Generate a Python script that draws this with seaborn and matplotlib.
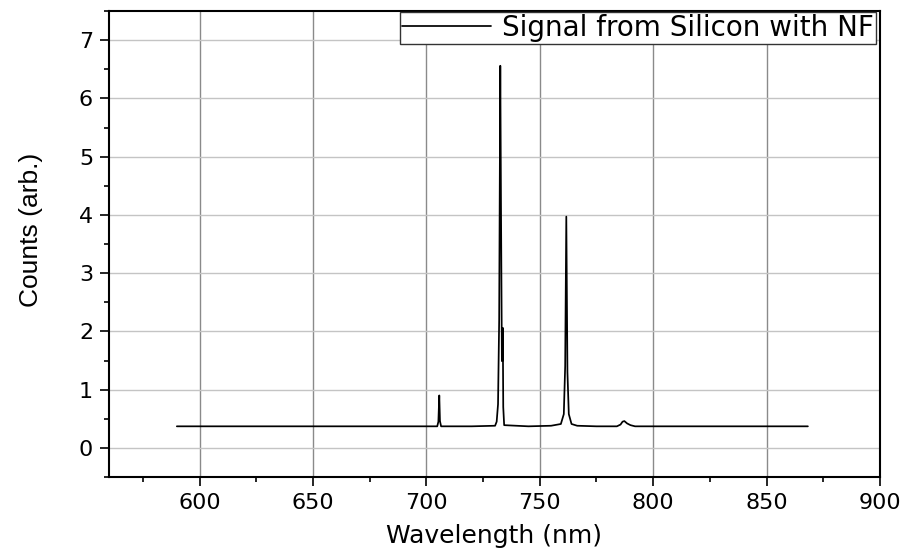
import numpy as np
import pandas as pd
import matplotlib
matplotlib.use("Agg")
import matplotlib.pyplot as plt
from matplotlib.ticker import MultipleLocator
import seaborn as sns

# Spectrum key points (wavelength nm, counts arb.)
wavelength = [590.0, 620.0, 660.0, 700.0, 704.8, 705.3, 705.7, 706.0, 706.5,
              720.0, 730.3, 731.0, 731.6, 732.1, 732.6, 732.9, 733.3, 733.5,
              733.7, 733.9, 734.3, 745.0, 755.0, 759.3, 760.6, 761.2, 761.7,
              762.2, 762.8, 764.0, 766.5, 775.0, 784.0, 785.6, 786.5, 787.3,
              788.5, 790.0, 792.0, 820.0, 850.0, 868.2]
counts = [0.37, 0.37, 0.37, 0.37, 0.37, 0.45, 0.90, 0.46, 0.37,
          0.37, 0.38, 0.45, 0.75, 2.20, 6.56, 4.20, 1.49, 1.49,
          2.06, 0.70, 0.39, 0.37, 0.38, 0.41, 0.58, 1.40, 3.97,
          1.30, 0.58, 0.41, 0.38, 0.37, 0.37, 0.40, 0.45, 0.46,
          0.42, 0.39, 0.37, 0.37, 0.37, 0.37]
series_label = "Signal from Silicon with NF"
x_ticks = [600, 650, 700, 750, 800, 850, 900]
y_ticks = [0, 1, 2, 3, 4, 5, 6, 7]

df = pd.DataFrame({"Wavelength (nm)": wavelength, "Counts (arb.)": counts})

sns.set_style("white")
plt.rcParams["font.family"] = ["DejaVu Sans"]
plt.rcParams["text.color"] = "black"

fig = plt.figure(figsize=(9.06, 5.52), dpi=100)
ax = fig.add_axes([108.8 / 906, 1 - 477 / 552, (880 - 108.8) / 906, (477 - 11) / 552])

sns.lineplot(data=df, x="Wavelength (nm)", y="Counts (arb.)", ax=ax,
             color="black", linewidth=1.25, estimator=None, sort=False,
             label=series_label)

ax.set_xlim(560, 900)
ax.set_ylim(-0.5, 7.5)
ax.set_xticks(x_ticks)
ax.set_yticks(y_ticks)
ax.xaxis.set_minor_locator(MultipleLocator(25))
ax.yaxis.set_minor_locator(MultipleLocator(0.5))

ax.grid(False)
ax.xaxis.grid(True, which="major", color="#8a8a8a", linewidth=1.0)
ax.yaxis.grid(True, which="major", color="#c4c4c4", linewidth=1.0)
ax.set_axisbelow(True)

for s in ax.spines.values():
    s.set_visible(True)
    s.set_color("black")
    s.set_linewidth(1.5)

ax.tick_params(axis="both", which="major", direction="out", length=6.3, width=1.2,
               labelsize=16, color="black", labelcolor="black",
               bottom=True, left=True, top=False, right=False, pad=5)
ax.tick_params(axis="both", which="minor", direction="out", length=3.8, width=1.2,
               color="black", bottom=True, left=True, top=False, right=False)

ax.set_xlabel("Wavelength (nm)", fontsize=18, color="black", family=["DejaVu Sans"])
ax.xaxis.set_label_coords(0.5, -0.10)
ax.set_ylabel("Counts (arb.)", fontsize=19, color="black",
              family=["Liberation Sans", "DejaVu Sans"])
ax.yaxis.set_label_coords(-0.085, 0.53)

leg = ax.legend(loc="upper right", bbox_to_anchor=(0.995, 0.998), borderaxespad=0,
                fontsize=20, handlelength=3.2, handletextpad=0.4, borderpad=0.08,
                fancybox=False, framealpha=1, edgecolor="#333333")
leg.get_frame().set_linewidth(1.0)
for t in leg.get_texts():
    t.set_color("black")

fig.savefig("out.png", dpi=100)
